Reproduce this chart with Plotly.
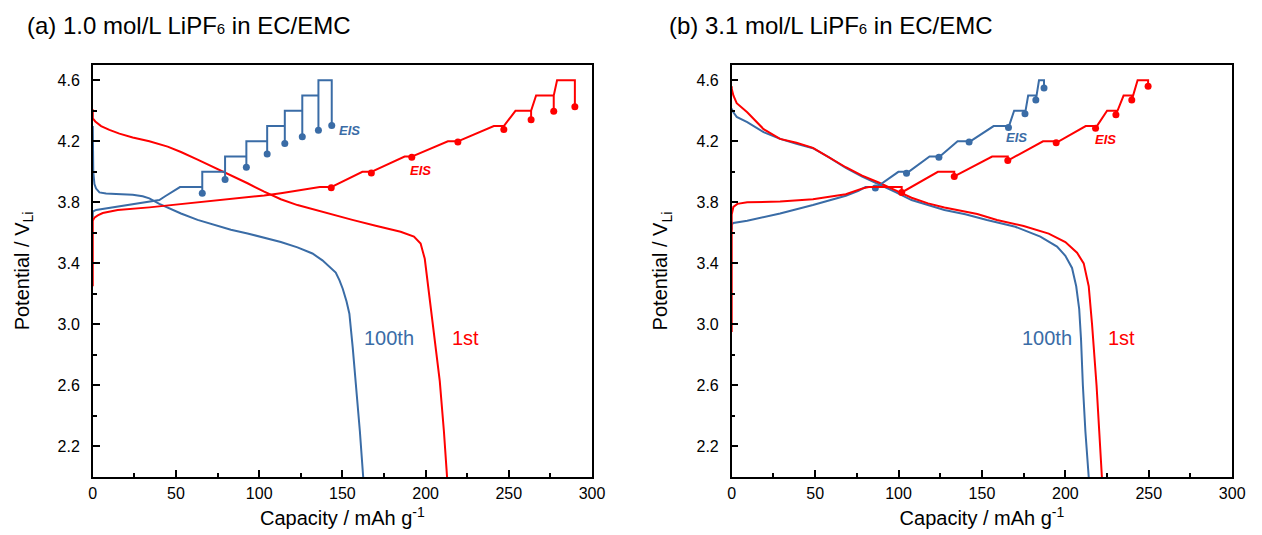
import plotly.graph_objects as go

BLUE = "#3a6ca6"
RED = "#ff0000"
FONT = "Arial, Liberation Sans, sans-serif"

# ---------------- Panel (a): 1.0 mol/L ----------------
a_dis1_cap = [0, 0, 1.5, 5, 10, 16, 24, 34, 45, 53, 63, 73, 83, 93, 103, 113, 123, 133, 145, 156, 170, 185, 193, 197, 199.5, 201, 203.5, 206, 208.5, 211, 212.9]
a_dis1_v = [4.41, 4.35, 4.33, 4.30, 4.275, 4.25, 4.225, 4.20, 4.165, 4.13, 4.08, 4.03, 3.975, 3.925, 3.87, 3.82, 3.782, 3.752, 3.717, 3.685, 3.647, 3.607, 3.575, 3.53, 3.43, 3.30, 3.07, 2.85, 2.63, 2.30, 2.0]

a_dis100_cap = [0, 0.3, 1, 2, 4, 8, 14, 24, 30, 34, 40, 47, 53, 63, 73, 83, 93, 103, 113, 123, 132, 138, 142, 146, 148.2, 150.2, 152.5, 154.2, 156.2, 158.1, 160.5, 162.5]
a_dis100_v = [4.30, 4.0, 3.92, 3.89, 3.865, 3.858, 3.855, 3.85, 3.84, 3.826, 3.79, 3.755, 3.727, 3.685, 3.65, 3.62, 3.596, 3.57, 3.54, 3.505, 3.465, 3.42, 3.38, 3.34, 3.29, 3.234, 3.15, 3.07, 2.85, 2.63, 2.30, 2.0]

a_ch1_cap = [0, 0, 1, 3, 6, 15, 34, 53, 73, 93, 103, 113, 123, 132]
a_ch1_v = [3.25, 3.68, 3.70, 3.715, 3.73, 3.75, 3.767, 3.788, 3.81, 3.835, 3.845, 3.86, 3.875, 3.893]
a_ch1_level = [3.9, 4.0, 4.1, 4.2, 4.3, 4.4, 4.5, 4.6]
a_ch1_start = [136.4, 162, 187.4, 213.4, 241, 254, 266.4, 279]
a_ch1_end = [143.3, 167.4, 191.7, 219.4, 247, 263.4, 277, 289.7]
a_ch1_eis = [3.895, 3.993, 4.095, 4.195, 4.278, 4.342, 4.397, 4.427]

a_ch100_cap = [0, 0, 2, 8, 14, 24, 34, 40, 43.5, 48]
a_ch100_v = [3.70, 3.74, 3.75, 3.76, 3.77, 3.785, 3.80, 3.815, 3.84, 3.87]
a_ch100_level = [3.9, 4.0, 4.1, 4.2, 4.3, 4.4, 4.5, 4.6]
a_ch100_start = [52.4, 65.8, 79.5, 92.3, 104.8, 115.4, 125.9, 135.6]
a_ch100_end = [65.8, 79.5, 92.3, 104.8, 115.4, 125.9, 135.6, 143.6]
a_ch100_eis = [3.859, 3.95, 4.03, 4.116, 4.186, 4.23, 4.272, 4.303]

# ---------------- Panel (b): 3.1 mol/L ----------------
b_dis1_cap = [0, 0, 1, 3, 9.3, 19.1, 29, 38.8, 48.7, 58.6, 68.4, 78.2, 88.1, 97.9, 107.8, 117.7, 127.5, 147.2, 159, 175, 190, 200, 207, 211, 214, 216, 217.5, 218.7, 220.3, 221.9]
b_dis1_v = [4.56, 4.545, 4.50, 4.45, 4.39, 4.28, 4.216, 4.19, 4.157, 4.095, 4.03, 3.975, 3.93, 3.88, 3.83, 3.793, 3.766, 3.723, 3.684, 3.645, 3.595, 3.54, 3.47, 3.40, 3.25, 3.0, 2.8, 2.6, 2.3, 2.0]

b_dis100_cap = [0, 1, 3, 9.3, 19.1, 29, 38.8, 48.7, 58.6, 68.4, 78.2, 88.1, 97.9, 107.8, 117.7, 127.5, 140, 153, 170, 185, 195, 200, 204, 206.5, 208.3, 209.4, 210.5, 212, 214]
b_dis100_v = [4.414, 4.39, 4.36, 4.326, 4.26, 4.216, 4.184, 4.155, 4.093, 4.025, 3.968, 3.92, 3.868, 3.815, 3.78, 3.75, 3.722, 3.684, 3.64, 3.575, 3.51, 3.45, 3.37, 3.25, 3.10, 2.90, 2.60, 2.30, 2.0]

b_ch1_cap = [0, 0, 1, 3.4, 9.3, 29, 48.7, 68.4, 78]
b_ch1_v = [2.95, 3.72, 3.77, 3.79, 3.80, 3.805, 3.82, 3.853, 3.89]
b_ch1_level = [3.9, 4.0, 4.1, 4.2, 4.3, 4.4, 4.5, 4.6]
b_ch1_start = [82.2, 123.6, 156.1, 186.6, 212.2, 225, 234.9, 243.3]
b_ch1_end = [101.9, 133.4, 165.5, 194.5, 218.1, 230.3, 239.8, 249.6]
b_ch1_eis = [3.865, 3.97, 4.074, 4.19, 4.286, 4.374, 4.47, 4.56]

b_ch100_cap = [0, 0, 1, 9.3, 29, 48.7, 68.4, 76]
b_ch100_v = [3.62, 3.655, 3.665, 3.68, 3.727, 3.782, 3.843, 3.875]
b_ch100_level = [3.9, 4.0, 4.1, 4.2, 4.3, 4.4, 4.5, 4.6]
b_ch100_start = [80.2, 99.9, 118.6, 135.4, 157, 169.3, 177.7, 184.2]
b_ch100_end = [86.1, 104.8, 124.2, 142.3, 165.9, 175.8, 182.3, 187.2]
b_ch100_eis = [3.894, 3.99, 4.095, 4.195, 4.29, 4.38, 4.47, 4.55]

x_ticks = [0, 50, 100, 150, 200, 250, 300]
y_ticks = [2.2, 2.6, 3.0, 3.4, 3.8, 4.2, 4.6]


def staircase(pre_c, pre_v, levels, starts, ends, eis, back_to_level):
    xs, ys = list(pre_c), list(pre_v)
    n = len(levels)
    for k in range(n):
        xs.append(starts[k]); ys.append(levels[k])
        xs.append(ends[k]); ys.append(levels[k])
        xs.append(ends[k]); ys.append(eis[k])
        if back_to_level and k < n - 1:
            xs.append(ends[k]); ys.append(levels[k])
    return xs, ys


fig = go.Figure()


def add_panel(xa, ya, dis1, dis100, ch1, ch100, back):
    fig.add_trace(go.Scatter(x=dis100[0], y=dis100[1], mode="lines", line=dict(color=BLUE, width=2),
                             xaxis=xa, yaxis=ya, showlegend=False, hoverinfo="skip"))
    fig.add_trace(go.Scatter(x=dis1[0], y=dis1[1], mode="lines", line=dict(color=RED, width=2),
                             xaxis=xa, yaxis=ya, showlegend=False, hoverinfo="skip"))
    for ch, col in ((ch100, BLUE), (ch1, RED)):
        xs, ys = staircase(*ch, back_to_level=back)
        fig.add_trace(go.Scatter(x=xs, y=ys, mode="lines", line=dict(color=col, width=2),
                                 xaxis=xa, yaxis=ya, showlegend=False, hoverinfo="skip"))
        fig.add_trace(go.Scatter(x=ch[4], y=ch[5], mode="markers", marker=dict(color=col, size=7),
                                 xaxis=xa, yaxis=ya, showlegend=False, hoverinfo="skip"))


add_panel("x", "y",
          (a_dis1_cap, a_dis1_v), (a_dis100_cap, a_dis100_v),
          (a_ch1_cap, a_ch1_v, a_ch1_level, a_ch1_start, a_ch1_end, a_ch1_eis),
          (a_ch100_cap, a_ch100_v, a_ch100_level, a_ch100_start, a_ch100_end, a_ch100_eis), True)
add_panel("x2", "y2",
          (b_dis1_cap, b_dis1_v), (b_dis100_cap, b_dis100_v),
          (b_ch1_cap, b_ch1_v, b_ch1_level, b_ch1_start, b_ch1_end, b_ch1_eis),
          (b_ch100_cap, b_ch100_v, b_ch100_level, b_ch100_start, b_ch100_end, b_ch100_eis), False)

tickfont = dict(family=FONT, size=16, color="black")
titlefont = dict(family=FONT, size=20, color="black")


def xaxis(domain, anchor):
    return dict(domain=domain, anchor=anchor, range=[0, 300], tickvals=x_ticks,
                ticks="inside", ticklen=7, tickwidth=1.5, tickcolor="black",
                minor=dict(dtick=25, tick0=0, ticks="inside", ticklen=4, tickwidth=1.5, tickcolor="black"),
                showline=True, linecolor="black", linewidth=1.5, mirror=True,
                showgrid=False, zeroline=False, tickfont=tickfont, ticklabelstandoff=1,
                title=dict(text="Capacity / mAh g<sup>-1</sup>", font=titlefont, standoff=10))


def yaxis(domain, anchor):
    return dict(domain=domain, anchor=anchor, range=[2.0, 4.7], tickvals=y_ticks,
                tickformat=".1f",
                ticks="inside", ticklen=7, tickwidth=1.5, tickcolor="black",
                minor=dict(dtick=0.2, tick0=2.2, ticks="inside", ticklen=4, tickwidth=1.5, tickcolor="black"),
                showline=True, linecolor="black", linewidth=1.5, mirror=True,
                showgrid=False, zeroline=False, tickfont=tickfont, ticklabelstandoff=8,
                title=dict(text="Potential / V<sub>Li</sub>", font=titlefont, standoff=23))


ydom = [0.1084, 0.8785]
fig.update_layout(
    width=1262, height=535, margin=dict(l=0, r=0, t=0, b=0),
    paper_bgcolor="white", plot_bgcolor="white",
    xaxis=xaxis([0.0713, 0.4723], "y"), yaxis=yaxis(ydom, "x"),
    xaxis2=xaxis([0.5845, 0.9865], "y2"), yaxis2=yaxis(ydom, "x2"),
)

titles = [("(a) 1.0 mol/L LiPF<span style=\"font-size:15px\">6</span> in EC/EMC", 21 / 1262),
          ("(b) 3.1 mol/L LiPF<span style=\"font-size:15px\">6</span> in EC/EMC", 672 / 1262)]
for text, xp in titles:
    fig.add_annotation(text=text, xref="paper", yref="paper", x=xp, y=1 - 25 / 535,
                       xanchor="left", yanchor="middle", showarrow=False,
                       font=dict(family=FONT, size=24, color="black"))

labels = [
    ("x", "y", 154.5, 4.27, "<b><i>EIS</i></b>", BLUE, 13),
    ("x", "y", 197, 4.01, "<b><i>EIS</i></b>", RED, 13),
    ("x", "y", 178.3, 2.91, "100th", BLUE, 20),
    ("x", "y", 223.8, 2.91, "1st", RED, 20),
    ("x2", "y2", 171, 4.227, "<b><i>EIS</i></b>", BLUE, 13),
    ("x2", "y2", 224.3, 4.21, "<b><i>EIS</i></b>", RED, 13),
    ("x2", "y2", 188.8, 2.91, "100th", BLUE, 20),
    ("x2", "y2", 233.7, 2.91, "1st", RED, 20),
]
for xr, yr, x, y, t, c, s in labels:
    fig.add_annotation(xref=xr, yref=yr, x=x, y=y, text=t, showarrow=False,
                       xanchor="center", yanchor="middle", font=dict(family=FONT, size=s, color=c))

fig.write_html("out.html")
